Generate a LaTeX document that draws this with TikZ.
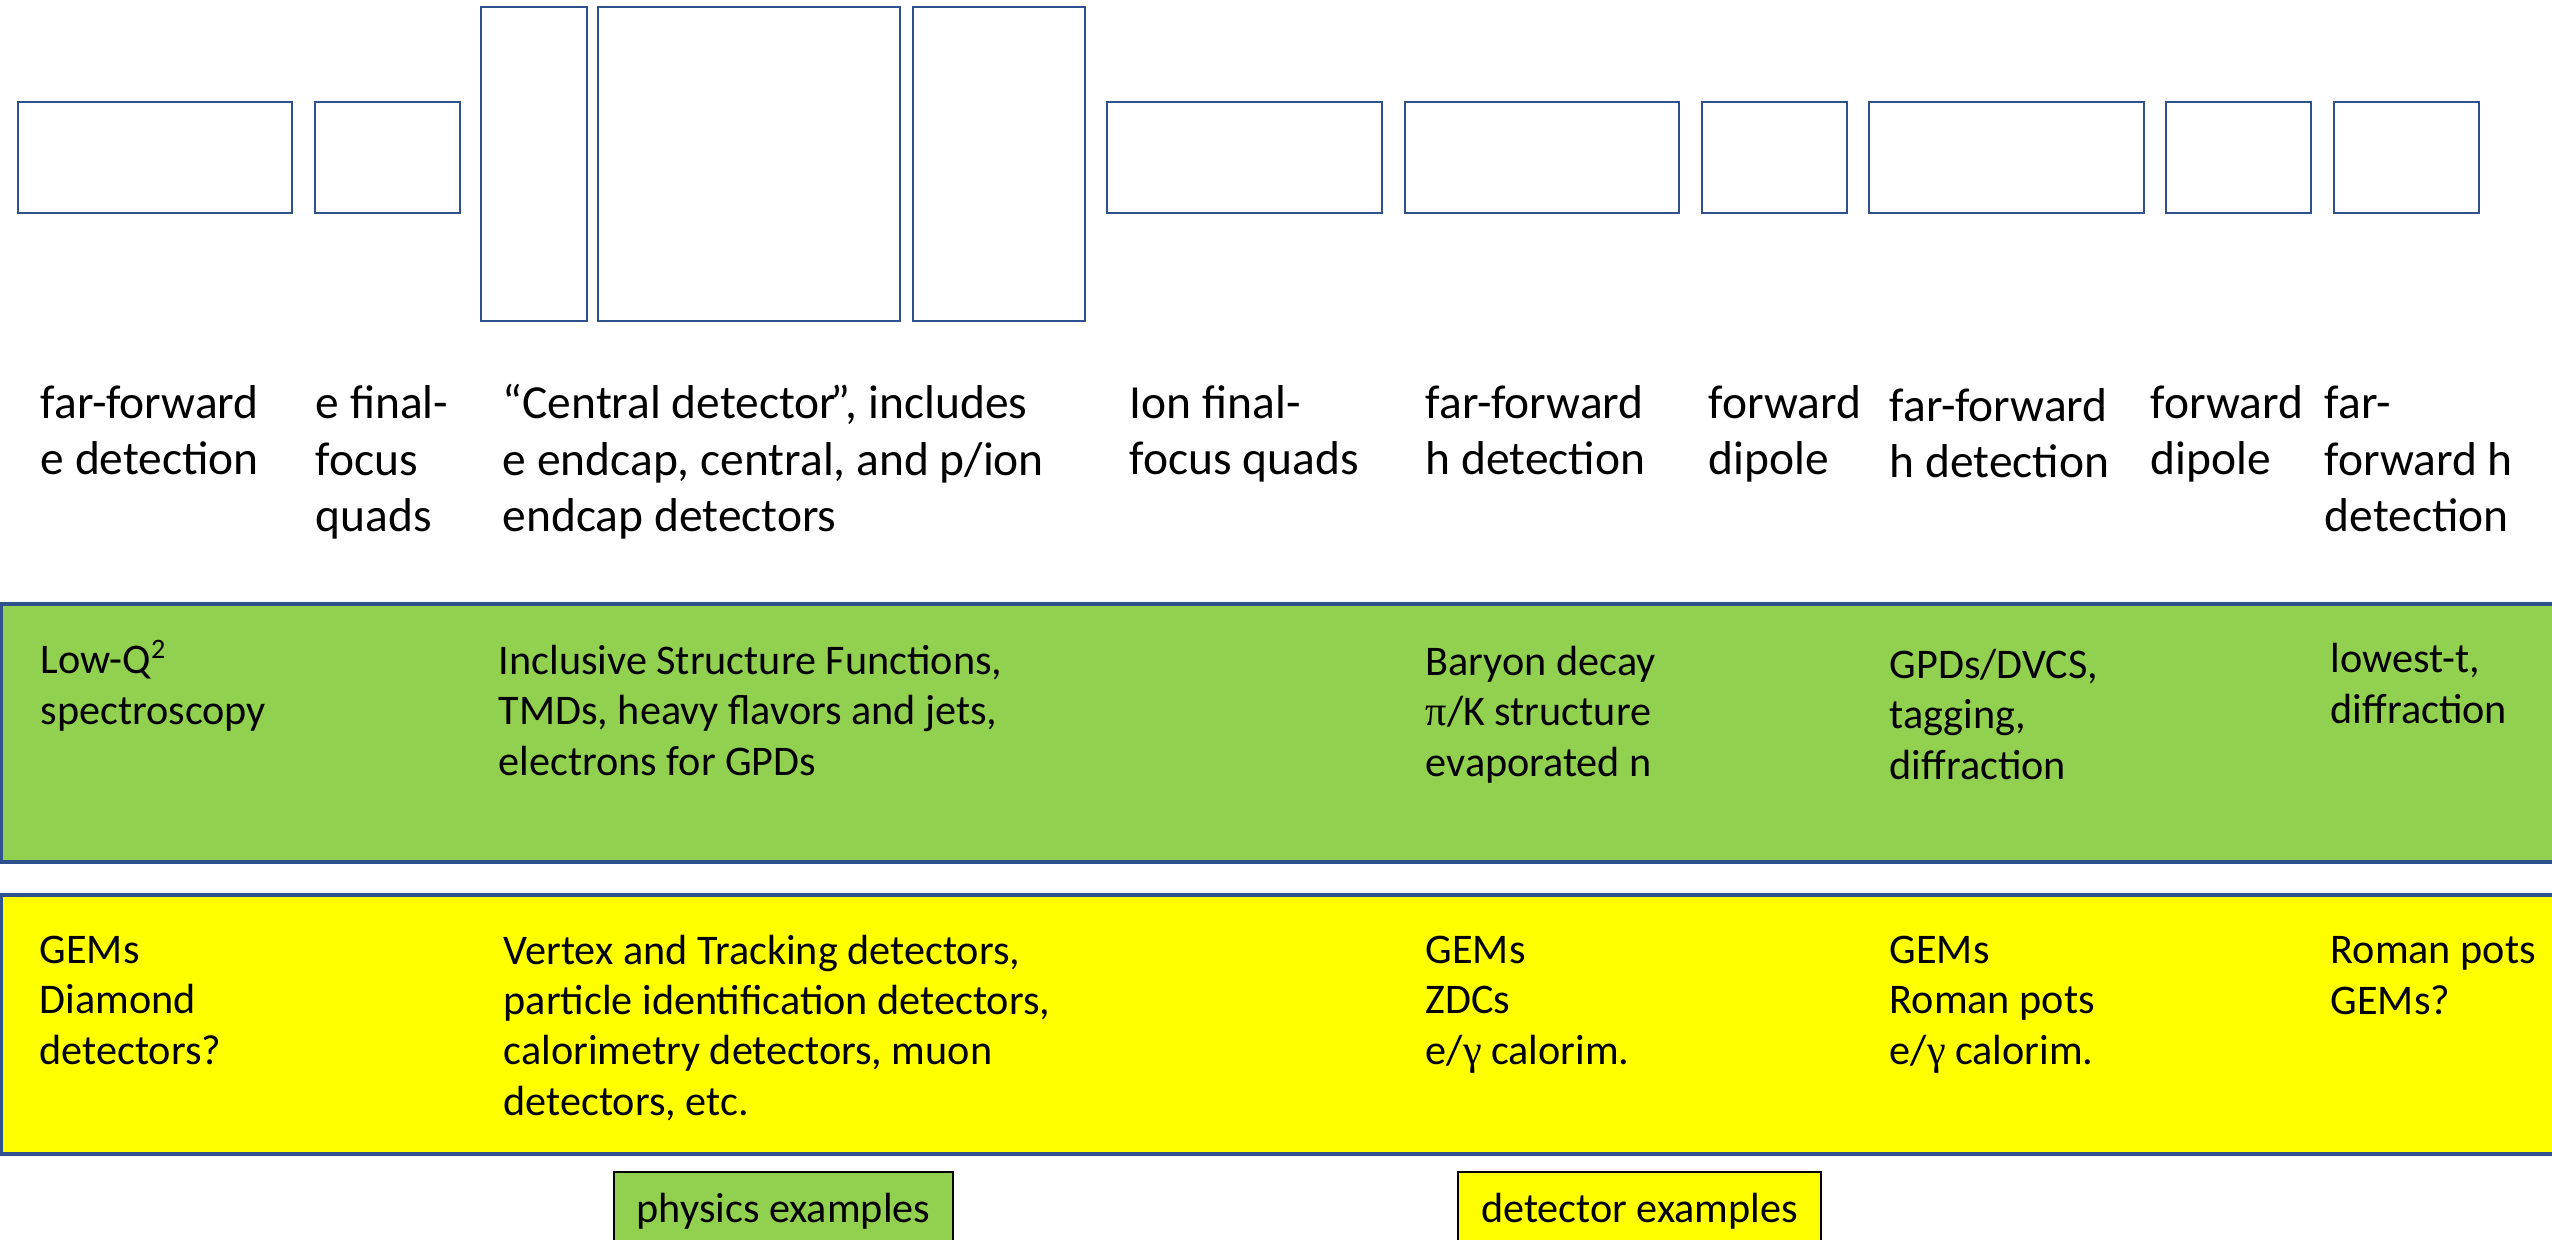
\documentclass[tikz,border=0pt]{standalone}
\usepackage{fontspec}
\setmainfont{Carlito}
\newfontfamily\greekserif{Liberation Serif}
\definecolor{outlineblue}{HTML}{2F528F}
\definecolor{physgreen}{HTML}{92D050}
\definecolor{detyellow}{HTML}{FFFF00}
\newcommand\labfont{\fontsize{13.5}{16.2}\selectfont}
\newcommand\bandfont{\fontsize{12}{14.3}\selectfont}
% multi-line nodes are anchored at the baseline of their last line
\tikzset{
  magnet/.style={draw=outlineblue, line width=0.75pt},
  band/.style={draw=outlineblue, line width=0.9pt},
  elemlabel/.style={anchor=base west, align=left, inner sep=0pt, font=\labfont},
  bandtext/.style={anchor=base west, align=left, inner sep=0pt, font=\bandfont},
  keybox/.style={draw=black, line width=0.6pt, minimum height=0.78cm, inner sep=0pt, font=\bandfont}
}
\begin{document}
\begin{tikzpicture}[x=0.01cm, y=-0.01cm]
\useasboundingbox (0,0) rectangle (2552,1240);
\clip (0,0) rectangle (2552,1240);

% beamline elements along the interaction region
\draw[magnet] (18,102) rectangle (292,213);
\draw[magnet] (315,102) rectangle (460,213);
\draw[magnet] (481,7) rectangle (587,321);
\draw[magnet] (598,7) rectangle (900,321);
\draw[magnet] (913,7) rectangle (1085,321);
\draw[magnet] (1107,102) rectangle (1382,213);
\draw[magnet] (1405,102) rectangle (1679,213);
\draw[magnet] (1702,102) rectangle (1847,213);
\draw[magnet] (1869,102) rectangle (2144,213);
\draw[magnet] (2166,102) rectangle (2311,213);
\draw[magnet] (2334,102) rectangle (2479,213);

% element names
\node[elemlabel] (lffe) at (40,475) {far-forward\\e detection};
\node[elemlabel] (lefq) at (315,532) {e final-\\focus\\quads};
\node[elemlabel] (lcent) at (502,532) {“Central detector\kern-0.12em”, includes\\e endcap, central, and p/ion\\endcap detectors};
\node[elemlabel] (lionfq) at (1129,475) {Ion final-\\focus quads};
\node[elemlabel] (lffh1) at (1425,475) {far-forward\\h detection};
\node[elemlabel] (ldip1) at (1708,475) {forward\\dipole};
\node[elemlabel] (lffh2) at (1889,478) {far-forward\\h detection};
\node[elemlabel] (ldip2) at (2150,475) {forward\\dipole};
\node[elemlabel] (lffh3) at (2324,532) {far-\\forward h\\detection};

% physics band
\draw[band, fill=physgreen] (1,604) rectangle (2600,862);
\node[bandtext] (pffe) at (40,724) {Low-Q\textsuperscript{2}\\spectroscopy};
\node[bandtext] (pcent) at (498,775) {Inclusive Structure Functions,\\TMDs, heavy flavors and jets,\\electrons for GPDs};
\node[bandtext] (pffh1) at (1425,776) {Baryon decay\\{\greekserif π}/K structure\\evaporated n};
\node[bandtext] (pffh2) at (1889,779) {GPDs/DVCS,\\tagging,\\diffraction};
\node[bandtext] (pffh3) at (2330,723) {lowest-t,\\diffraction};

% detector band
\draw[band, fill=detyellow] (1,895) rectangle (2600,1154);
\node[bandtext] (dffe) at (39,1064) {GEMs\\Diamond\\detectors?};
\node[bandtext] (dcent) at (503,1115) {Vertex and Tracking detectors,\\particle identification detectors,\\calorimetry detectors, muon\\detectors, etc.};
\node[bandtext] (dffh1) at (1425,1064) {GEMs\\ZDCs\\e/{\greekserif γ} calorim.};
\node[bandtext] (dffh2) at (1889,1064) {GEMs\\Roman pots\\e/{\greekserif γ} calorim.};
\node[bandtext] (dffh3) at (2330,1014) {Roman pots\\GEMs?};

% key
\node[keybox, fill=physgreen, minimum width=3.39cm] (kphys) at (783.5,1211) {physics examples};
\node[keybox, fill=detyellow, minimum width=3.63cm] (kdet) at (1639.5,1211) {detector examples};
\end{tikzpicture}
\end{document}
